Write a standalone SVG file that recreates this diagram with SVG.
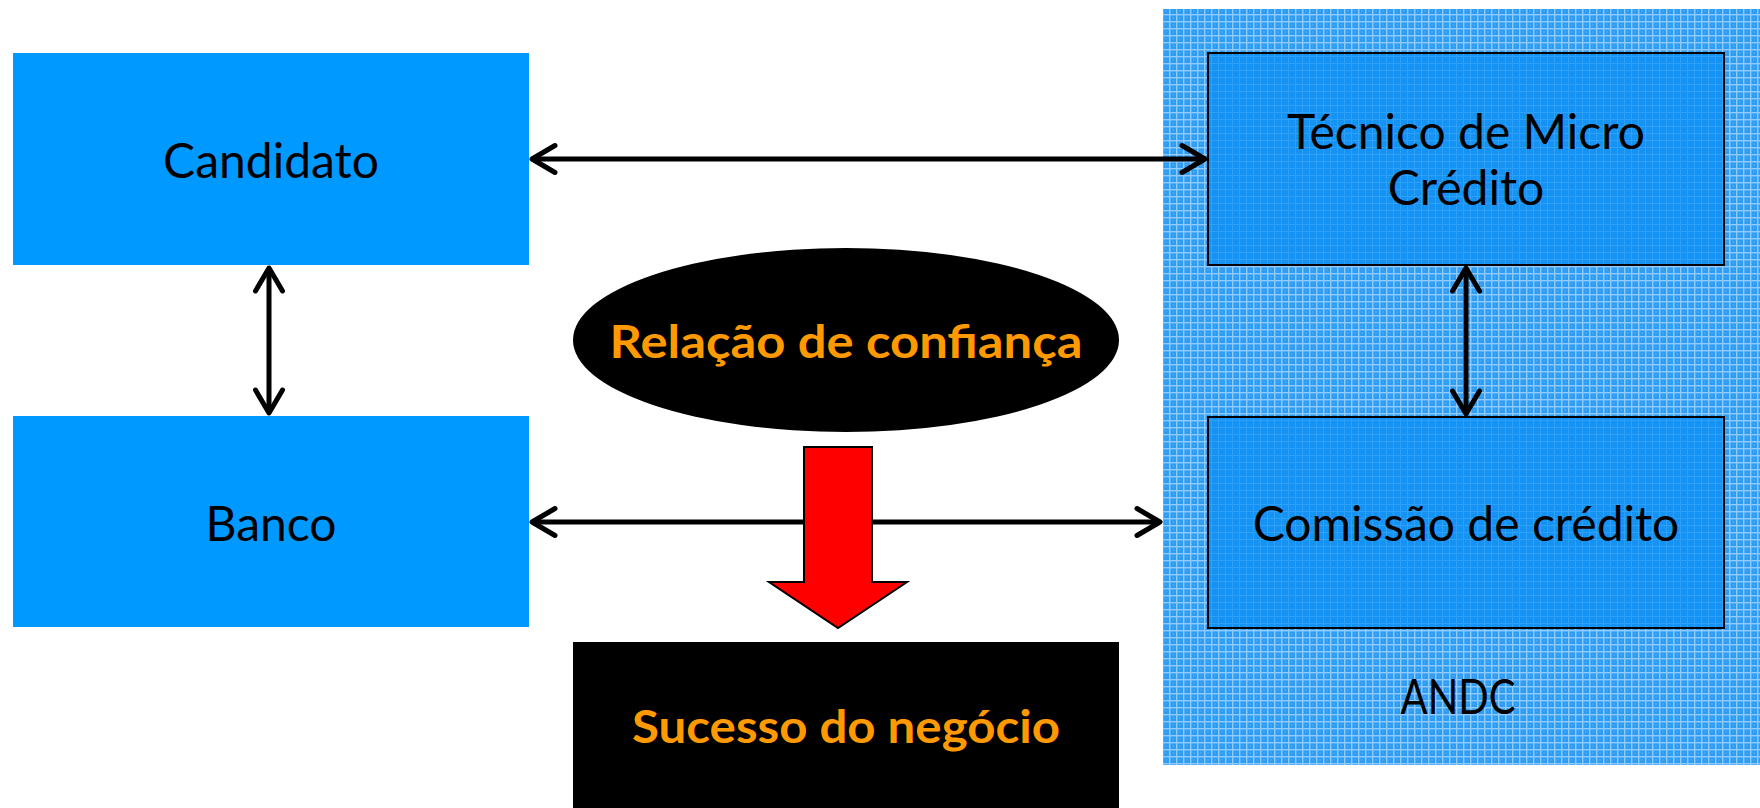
<svg xmlns="http://www.w3.org/2000/svg" width="1760" height="808" viewBox="0 0 1760 808">
  <style>
    .box { fill: #0099ff; }
    .inner { fill: url(#gridInner); stroke: #000; stroke-width: 2; }
    .lbl { font-family: Lato, "Open Sans", "Liberation Sans", sans-serif; font-size: 48px; fill: #000; text-anchor: middle; }
    .blbl { font-family: Lato, "Open Sans", "Liberation Sans", sans-serif; font-weight: bold; font-size: 45px; fill: #ff9900; text-anchor: middle; }
    .conn { stroke: #000; stroke-width: 5; fill: none; marker-start: url(#chev); marker-end: url(#chev); }
  </style>
  <defs>
    <pattern id="grid" x="0" y="0" width="7" height="7" patternUnits="userSpaceOnUse">
      <rect width="7" height="7" fill="#2f9cf3"/>
      <rect x="0" y="0" width="1.4" height="7" fill="#8fcbff"/>
      <rect x="0" y="0" width="7" height="1.4" fill="#8fcbff"/>
      <rect x="3.5" y="3.5" width="1" height="1" fill="#66b8fb"/>
    </pattern>
    <pattern id="gridInner" x="0" y="0" width="7" height="7" patternUnits="userSpaceOnUse">
      <rect width="7" height="7" fill="#1593f5"/>
      <rect x="0" y="0" width="1" height="7" fill="#2fa0f8"/>
      <rect x="0" y="0" width="7" height="1" fill="#2fa0f8"/>
    </pattern>
    <marker id="chev" viewBox="-28 -17 32 34" markerWidth="32" markerHeight="34" refX="0" refY="0" orient="auto-start-reverse" markerUnits="userSpaceOnUse">
      <path d="M -23 -13.5 L 0 0 L -23 13.5" fill="none" stroke="#000" stroke-width="5" stroke-linecap="round" stroke-linejoin="round"/>
    </marker>
  </defs>

  <rect width="1760" height="808" fill="#fff"/>

  <g id="andc">
    <rect x="1163" y="9" width="597" height="756" fill="url(#grid)"/>
    <text class="lbl" x="1458" y="714" textLength="115" lengthAdjust="spacingAndGlyphs">ANDC</text>
  </g>

  <g id="candidato">
    <rect class="box" x="13" y="53" width="516" height="212"/>
    <text class="lbl" x="271" y="178">Candidato</text>
  </g>

  <g id="banco">
    <rect class="box" x="13" y="416" width="516" height="211"/>
    <text class="lbl" x="271" y="541">Banco</text>
  </g>

  <g id="tecnico">
    <rect class="inner" x="1208" y="53" width="516" height="212"/>
    <text class="lbl" x="1466" y="149">Técnico de Micro</text>
    <text class="lbl" x="1466" y="205">Crédito</text>
  </g>

  <g id="comissao">
    <rect class="inner" x="1208" y="417" width="516" height="211"/>
    <text class="lbl" x="1466" y="541">Comissão de crédito</text>
  </g>

  <g id="relacao">
    <ellipse cx="846" cy="340" rx="273" ry="92" fill="#000"/>
    <text class="blbl" x="846" y="358" textLength="473" lengthAdjust="spacingAndGlyphs">Relação de confiança</text>
  </g>

  <g id="sucesso">
    <rect x="573" y="642" width="546" height="170" fill="#000"/>
    <text class="blbl" x="846" y="743" textLength="428" lengthAdjust="spacingAndGlyphs">Sucesso do negócio</text>
  </g>

  <g id="connectors">
    <line class="conn" x1="532" y1="159" x2="1205" y2="159"/>
    <line class="conn" x1="269" y1="268" x2="269" y2="413"/>
    <line class="conn" x1="1466" y1="268" x2="1466" y2="414"/>
    <line class="conn" x1="532" y1="522" x2="1160" y2="522"/>
    <path id="redArrow" d="M 804 447 L 872 447 L 872 582 L 907 582 L 838 628 L 769 582 L 804 582 Z" fill="#ff0000" stroke="#000" stroke-width="2" stroke-linejoin="miter"/>
  </g>
</svg>
